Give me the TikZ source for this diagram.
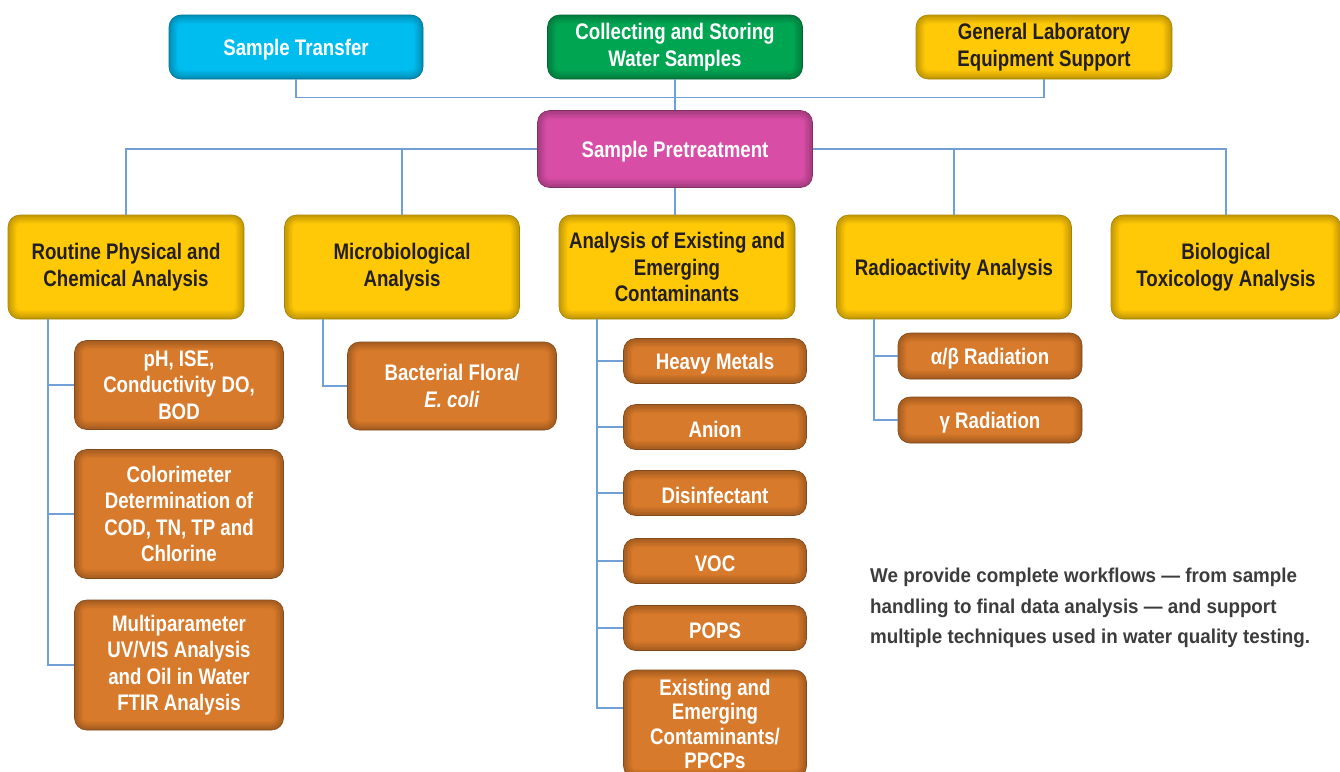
\documentclass[tikz,border=0pt]{standalone}
\usepackage{fontspec}
\setmainfont{Liberation Sans}[FakeStretch=0.83]
\newfontfamily\notefont{Liberation Sans}[FakeStretch=0.94]
\usetikzlibrary{positioning}
\definecolor{skyc}{RGB}{0,189,240}
\definecolor{leafc}{RGB}{0,165,82}
\definecolor{goldc}{RGB}{255,201,8}
\definecolor{pinkc}{RGB}{216,78,166}
\definecolor{rustc}{RGB}{216,122,43}
\definecolor{linkc}{RGB}{112,160,214}
\definecolor{inkc}{RGB}{35,31,32}
\definecolor{notec}{RGB}{60,60,60}
\begin{document}
\begin{tikzpicture}[x=1pt,y=-1pt,
  glow/.style={path picture={
    \foreach \k in {0,...,9}{
      \draw[black,draw opacity=0.17-0.017*\k,line width=1.3pt,rounded corners=12pt-\k*0.8pt]
        ([shift={(\k*0.9pt,-\k*0.9pt)}]path picture bounding box.north west) rectangle
        ([shift={(-\k*0.9pt,\k*0.9pt)}]path picture bounding box.south east);
    }}},
  box/.style={rounded corners=12pt,align=center,inner sep=0pt,line width=0.6pt,glow,
    font=\fontsize{22.5}{26.5}\selectfont\bfseries,
    execute at begin node={\rule{0pt}{22pt}}},
  skybox/.style={box,fill=skyc,draw=skyc!60!black,text=white},
  leafbox/.style={box,fill=leafc,draw=leafc!60!black,text=white},
  pinkbox/.style={box,fill=pinkc,draw=pinkc!60!black,text=white},
  goldbox/.style={box,fill=goldc,draw=goldc!65!black,text=inkc},
  rustbox/.style={box,fill=rustc,draw=rustc!60!black,text=white},
  link/.style={draw=linkc,line width=1.4pt}]
\useasboundingbox (0,0) rectangle (1340,771);
% top row
\node[skybox,minimum width=254,minimum height=64] (trans) at (296,47) {Sample Transfer};
\node[leafbox,minimum width=255,minimum height=64] (collect) at (675,47) {Collecting and Storing\\Water Samples};
\node[goldbox,minimum width=256,minimum height=64] (genlab) at (1044,47) {General Laboratory\\Equipment Support};
\node[pinkbox,minimum width=275,minimum height=77] (pretreat) at (675,149) {Sample Pretreatment};
% second row
\node[goldbox,minimum width=236,minimum height=104] (route) at (126,267) {Routine Physical and\\Chemical Analysis};
\node[goldbox,minimum width=235,minimum height=104] (micro) at (402,267) {Microbiological\\Analysis};
\node[goldbox,minimum width=236,minimum height=104] (exist) at (677,267) {Analysis of Existing and\\Emerging\\Contaminants};
\node[goldbox,minimum width=235,minimum height=104] (radio) at (954,267) {Radioactivity Analysis};
\node[goldbox,minimum width=230,minimum height=104] (bio) at (1226,267) {Biological\\Toxicology Analysis};
% routine
\node[rustbox,minimum width=209,minimum height=89] (ph) at (179,385) {pH, ISE,\\Conductivity DO,\\BOD};
\node[rustbox,minimum width=209,minimum height=129] (color) at (179,514) {Colorimeter\\Determination of\\COD, TN, TP and\\Chlorine};
\node[rustbox,minimum width=209,minimum height=130] (multi) at (179,665) {Multiparameter\\UV/VIS Analysis\\and Oil in Water\\FTIR Analysis};
% microbiological
\node[rustbox,minimum width=209,minimum height=88] (flora) at (452,386) {Bacterial Flora/\\\textit{E. coli}};
% contaminants
\node[rustbox,minimum width=183,minimum height=45] (metal) at (715,361) {Heavy Metals};
\node[rustbox,minimum width=183,minimum height=45] (anion) at (715,427) {Anion};
\node[rustbox,minimum width=183,minimum height=45] (disinf) at (715,493) {Disinfectant};
\node[rustbox,minimum width=183,minimum height=45] (voc) at (715,561) {VOC};
\node[rustbox,minimum width=183,minimum height=45] (pops) at (715,628) {POPS};
\node[rustbox,minimum width=183,minimum height=108,font=\fontsize{22.5}{24.5}\selectfont\bfseries] (ppcp) at (715,724) {Existing and\\Emerging\\Contaminants/\\PPCPs};
% radioactivity
\node[rustbox,minimum width=184,minimum height=46] (alpha) at (990,356) {α/β Radiation};
\node[rustbox,minimum width=184,minimum height=46] (gamma) at (990,420) {γ Radiation};
% note
\node[anchor=north west,align=left,inner sep=0pt,text=notec,
  font=\notefont\fontsize{20}{30.5}\selectfont\bfseries] (note) at (870,568)
  {We provide complete workflows — from sample\\handling to final data analysis — and support\\multiple techniques used in water quality testing.};
% connectors
\coordinate (rtrunk) at (48,319);
\coordinate (mtrunk) at (323,319);
\coordinate (etrunk) at (597,319);
\coordinate (atrunk) at (874,319);
\path[link] (trans.south) -- ++(0,18) -| (genlab.south);
\path[link] (collect.south) -- (pretreat.north);
\path[link] (pretreat.west) -| (route.north);
\path[link] (pretreat.west) -| (micro.north);
\path[link] (pretreat.east) -| (radio.north);
\path[link] (pretreat.east) -| (bio.north);
\path[link] (pretreat.south) -- (pretreat.south |- exist.north);
\path[link] (rtrunk) |- (ph.west);
\path[link] (rtrunk) |- (color.west);
\path[link] (rtrunk) |- (multi.west);
\path[link] (mtrunk) |- (flora.west);
\path[link] (etrunk) |- (metal.west);
\path[link] (etrunk) |- (anion.west);
\path[link] (etrunk) |- (disinf.west);
\path[link] (etrunk) |- (voc.west);
\path[link] (etrunk) |- (pops.west);
\path[link] (etrunk) |- ([yshift=16pt]ppcp.west);
\path[link] (atrunk) |- (alpha.west);
\path[link] (atrunk) |- (gamma.west);
\end{tikzpicture}
\end{document}
